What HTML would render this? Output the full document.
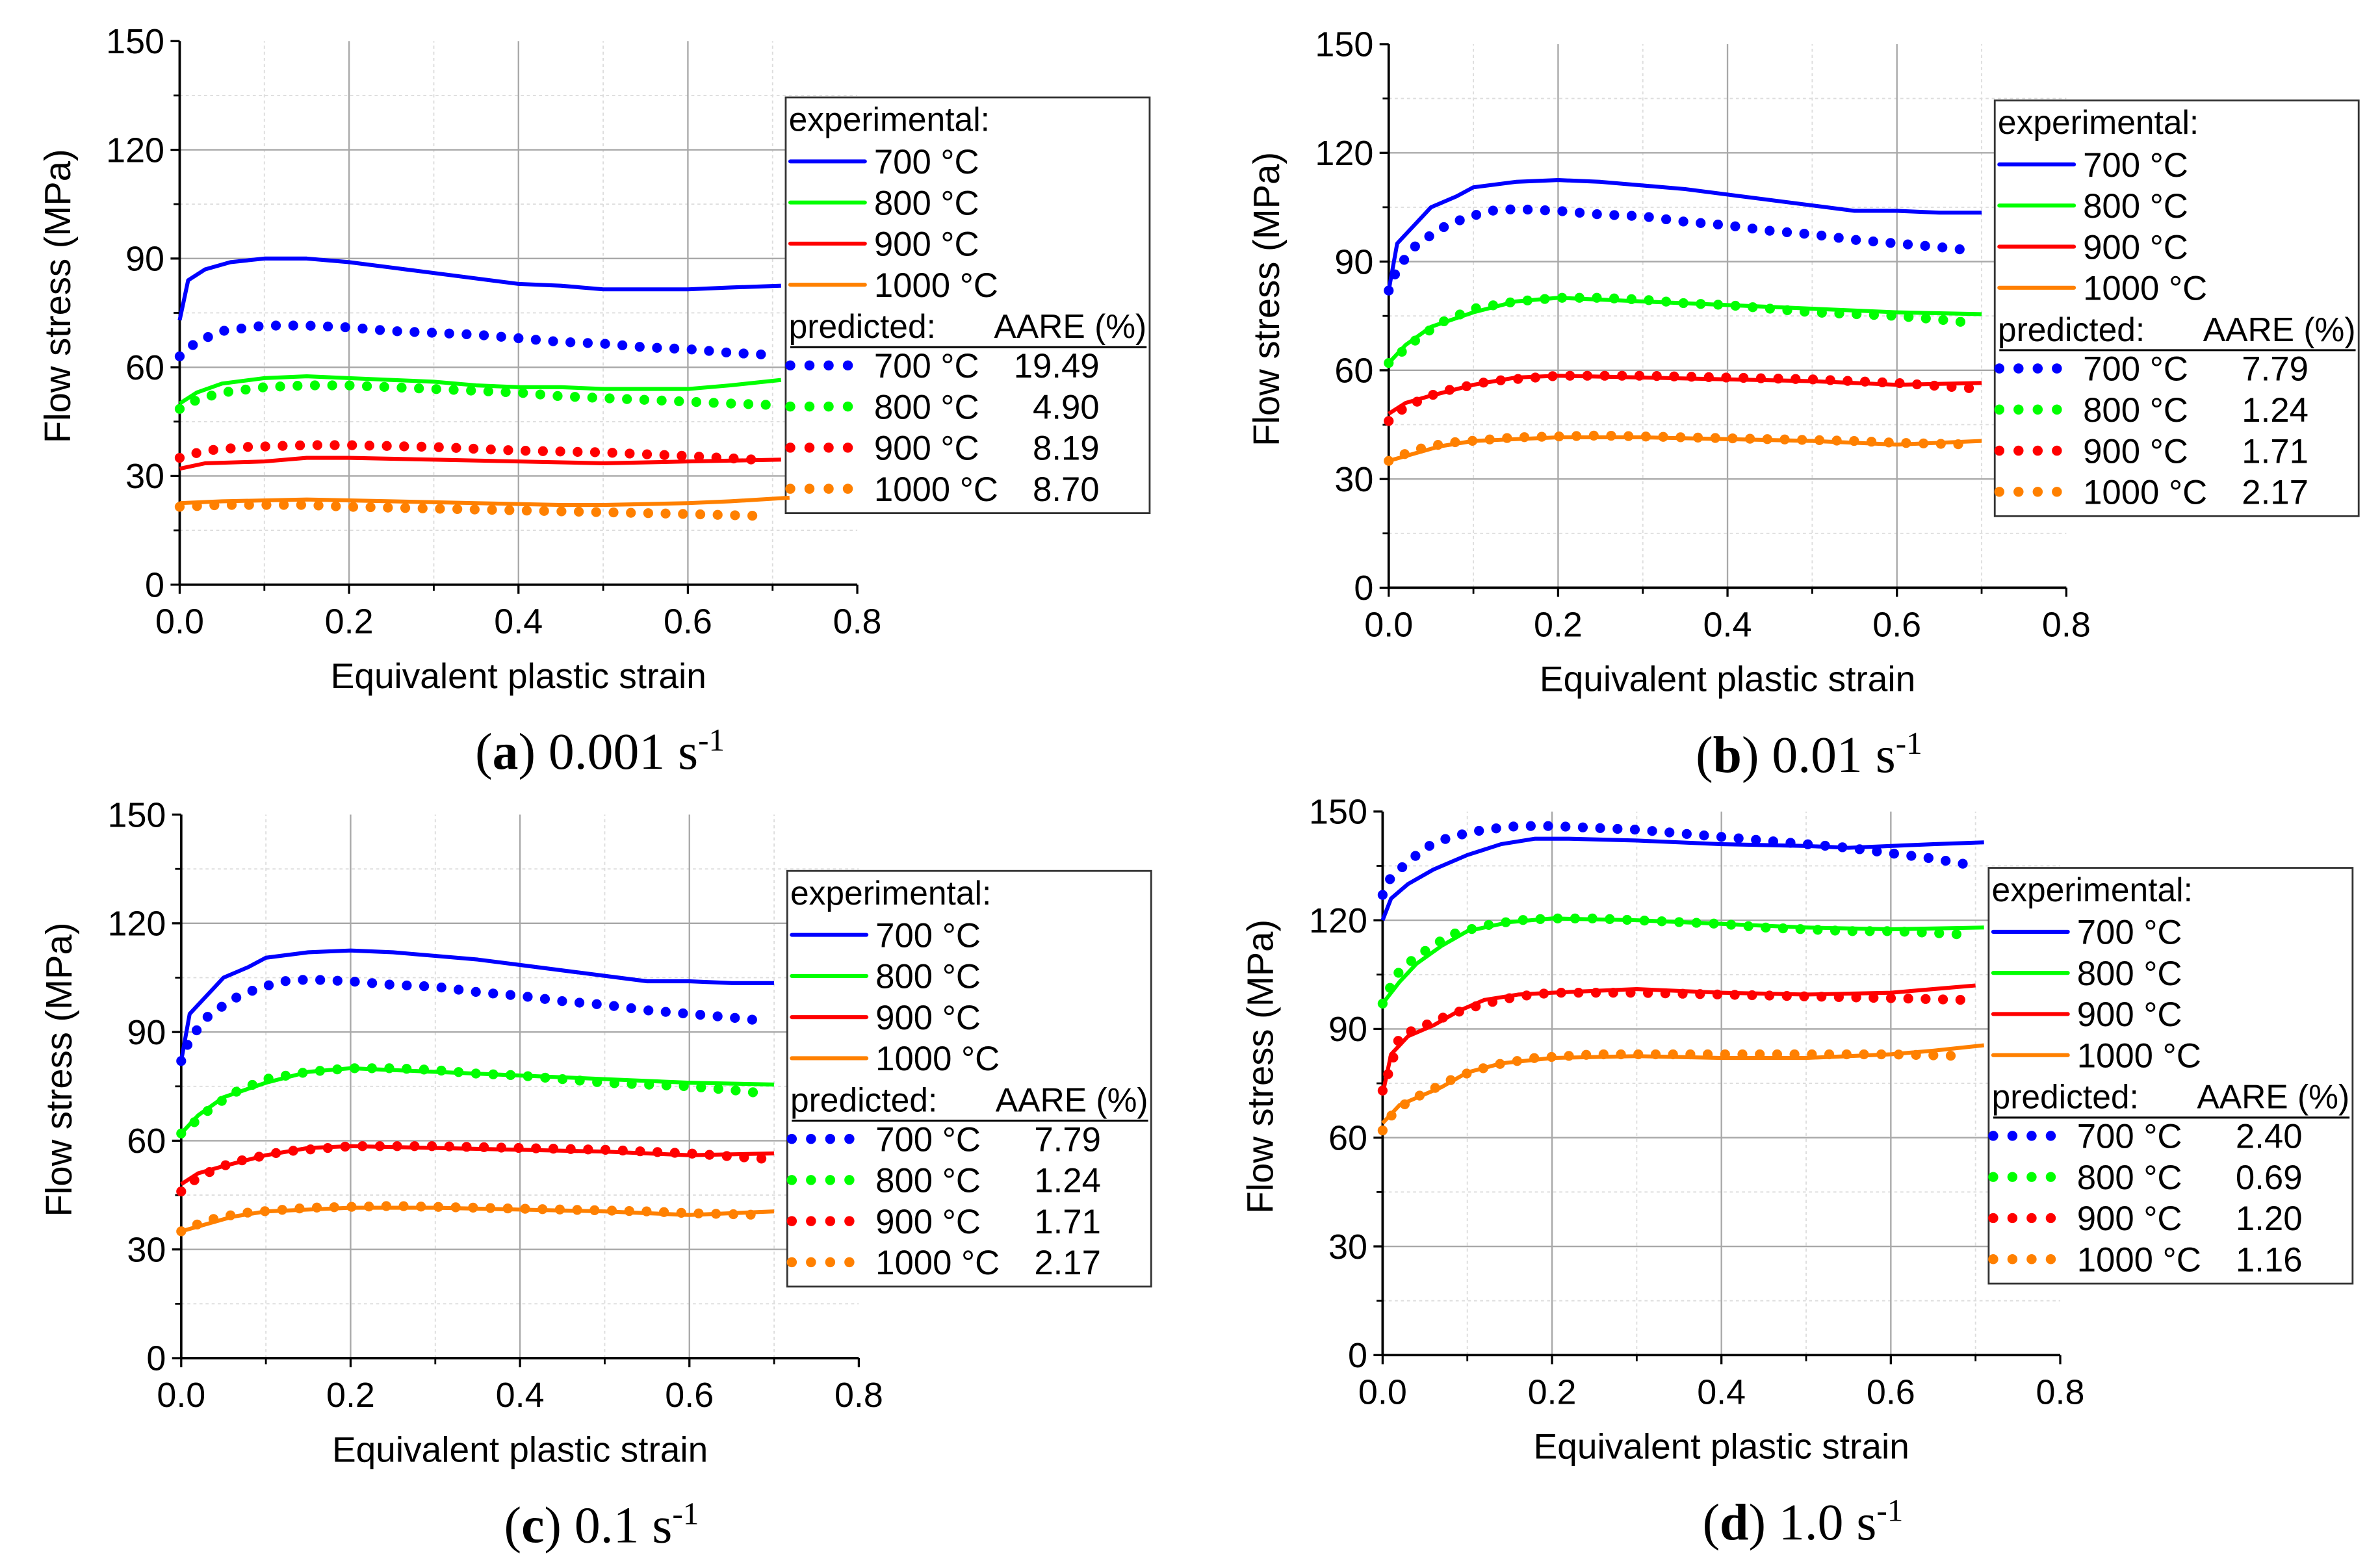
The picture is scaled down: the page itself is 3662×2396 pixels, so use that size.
<!DOCTYPE html>
<html><head><meta charset="utf-8"><style>
html,body{margin:0;padding:0;background:#fff;}
svg{display:block;}
text{font-family:"Liberation Sans",sans-serif;fill:#000;}
</style></head><body>
<svg id="fig" width="3662" height="2396" viewBox="0 0 1563 1022.6" preserveAspectRatio="none" xmlns="http://www.w3.org/2000/svg"></svg>
<script>
// ---- data ----
const temps = ["700 °C","800 °C","900 °C","1000 °C"];
const colors = ["#0000ff","#00ff00","#ff0000","#ff8000"];
const xTicks = [0,0.2,0.4,0.6,0.8];
const xTickLabels = ["0.0","0.2","0.4","0.6","0.8"];
const yTicks = [0,30,60,90,120,150];
const yTickLabels = ["0","30","60","90","120","150"];

// Panel a (0.001 s-1)
const aExp700x=[0,0.01,0.03,0.06,0.1,0.15,0.2,0.25,0.3,0.35,0.4,0.45,0.5,0.55,0.6,0.65,0.71];
const aExp700y=[73,84,87,89,90,90,89,87.5,86,84.5,83,82.5,81.5,81.5,81.5,82,82.5];
const aPre700x=[0,0.02,0.05,0.1,0.15,0.2,0.25,0.3,0.35,0.4,0.45,0.5,0.55,0.6,0.65,0.69];
const aPre700y=[63,67,70,71.5,71.5,71,70,69.5,69,68,67,66.5,65.5,65,64,63.5];
const aExp800x=[0,0.02,0.05,0.1,0.15,0.2,0.25,0.3,0.35,0.4,0.45,0.5,0.55,0.6,0.65,0.71];
const aExp800y=[50,53,55.5,57,57.5,57,56.5,56,55,54.5,54.5,54,54,54,55,56.5];
const aPre800x=[0,0.02,0.05,0.1,0.15,0.2,0.25,0.3,0.35,0.4,0.45,0.5,0.55,0.6,0.65,0.71];
const aPre800y=[48.5,51,53,54.5,55,55,54.5,54,53.5,53,52,51.5,51,50.5,50,49.5];
const aExp900x=[0,0.03,0.1,0.15,0.2,0.3,0.4,0.5,0.6,0.71];
const aExp900y=[32,33.5,34,35,35,34.5,34,33.5,34,34.5];
const aPre900x=[0,0.03,0.08,0.15,0.2,0.3,0.4,0.5,0.6,0.68];
const aPre900y=[35,37,38,38.5,38.5,38,37,36.5,35.5,34.5];
const aExp1000x=[0,0.05,0.15,0.25,0.35,0.45,0.5,0.6,0.65,0.72];
const aExp1000y=[22.5,23,23.5,23,22.5,22,22,22.5,23,24];
const aPre1000x=[0,0.05,0.15,0.2,0.3,0.4,0.5,0.6,0.68];
const aPre1000y=[21.5,22,22,21.5,21,20.5,20,19.5,19];
const aAare=["19.49","4.90","8.19","8.70"];

// Panels b and c (0.01 and 0.1 s-1)
const bExp700x=[0,0.01,0.03,0.05,0.08,0.1,0.15,0.2,0.25,0.3,0.35,0.4,0.45,0.5,0.55,0.6,0.65,0.7];
const bExp700y=[82,95,100,105,108,110.5,112,112.5,112,111,110,108.5,107,105.5,104,104,103.5,103.5];
const bPre700x=[0,0.01,0.03,0.06,0.09,0.12,0.15,0.2,0.25,0.3,0.35,0.4,0.45,0.5,0.55,0.6,0.65,0.69];
const bPre700y=[82,88,94,99,102,104,104.5,104,103,102.5,101,100,98.5,97.5,96,95,94,93];
const bExp800x=[0,0.02,0.05,0.1,0.15,0.2,0.25,0.3,0.35,0.4,0.5,0.6,0.7];
const bExp800y=[62,67,72,76,79,80,79.5,79,78.5,78,77,76,75.5];
const bPre800x=[0,0.03,0.06,0.1,0.15,0.2,0.25,0.3,0.35,0.4,0.45,0.5,0.55,0.6,0.65,0.69];
const bPre800y=[62,68,73,77,79,80,80,79.5,78.5,78,77,76,75.5,75,74,73];
const bExp900x=[0,0.02,0.05,0.1,0.15,0.2,0.3,0.4,0.5,0.6,0.7];
const bExp900y=[48,51,53,56,58,58.5,58,57.5,57,56,56.5];
const bPre900x=[0,0.02,0.06,0.12,0.2,0.3,0.4,0.5,0.6,0.69];
const bPre900y=[46,50,54,57,58.5,58.5,58,57.5,56.5,55];
const bExp1000x=[0,0.03,0.06,0.1,0.2,0.3,0.4,0.5,0.55,0.6,0.65,0.7];
const bExp1000y=[35,37,39,40.5,41.5,41.5,41,40.5,40,39.5,40,40.5];
const bPre1000x=[0,0.03,0.07,0.15,0.25,0.35,0.45,0.55,0.6,0.69];
const bPre1000y=[35,38,40,41.5,42,41.5,41,40.5,40,39.5];
const bAare=["7.79","1.24","1.71","2.17"];

// Panel d (1.0 s-1)
const dExp700x=[0,0.01,0.03,0.06,0.1,0.14,0.18,0.22,0.3,0.4,0.5,0.55,0.6,0.65,0.71];
const dExp700y=[120,126,130,134,138,141,142.5,142.5,142,141,140.5,140,140.5,141,141.5];
const dPre700x=[0,0.01,0.03,0.05,0.08,0.12,0.16,0.2,0.25,0.3,0.35,0.4,0.45,0.5,0.55,0.6,0.65,0.7];
const dPre700y=[127,132,136,140,143,145,146,146,145.5,145,144,143,142,141,140,138.5,137,135];
const dExp800x=[0,0.02,0.04,0.07,0.1,0.15,0.2,0.3,0.4,0.5,0.6,0.71];
const dExp800y=[97,103,108,113,117,119.5,120.5,120,119,118,117.5,118];
const dPre800x=[0,0.01,0.02,0.04,0.06,0.08,0.12,0.16,0.2,0.25,0.3,0.35,0.4,0.45,0.5,0.55,0.6,0.65,0.69];
const dPre800y=[97,102,106,110,113,116,118.5,120,120.5,120.5,120,119.5,119,118,117.5,117,117,116.5,116];
const dExp900x=[0,0.01,0.03,0.06,0.09,0.12,0.16,0.2,0.3,0.35,0.4,0.5,0.6,0.65,0.7];
const dExp900y=[72,83,88,91,95,98,99.5,100,101,100.5,100,99.5,100,101,102];
const dPre900x=[0,0.01,0.015,0.02,0.05,0.08,0.12,0.16,0.2,0.3,0.4,0.5,0.6,0.69];
const dPre900y=[73,80,84,88,91,94,97,99,100,100,99.5,99,98.5,98];
const dExp1000x=[0,0.02,0.04,0.07,0.1,0.14,0.2,0.3,0.4,0.5,0.6,0.65,0.71];
const dExp1000y=[64,69,71,74,78,80.5,82,82.5,82,82,83,84,85.5];
const dPre1000x=[0,0.01,0.03,0.06,0.09,0.13,0.18,0.25,0.4,0.5,0.6,0.69];
const dPre1000y=[62,66,70,73.5,77,80,82,83,83,83,83,82.5];
const dAare=["2.40","0.69","1.20","1.16"];

// ---- drawing ----
const NS="http://www.w3.org/2000/svg";
const svg=document.getElementById('fig');
function mk(tag,attrs,parent){const e=document.createElementNS(NS,tag);for(const k in attrs)e.setAttribute(k,attrs[k]);(parent||svg).appendChild(e);return e;}

function panel(p){
  const W=445,H=357;
  const g=mk('g',{});
  
  
  const sx=v=>p.x0+v/0.8*W;
  const sy=v=>p.y0-v/150*H;
  for(let i=1;i<8;i+=2){const l=mk('line',{x1:sx(i*0.1),x2:sx(i*0.1),y1:sy(0),y2:sy(150),stroke:'#dddddd','stroke-width':0.8,'stroke-dasharray':'2 2'},g);
    }
  for(let v=15;v<150;v+=30){const l=mk('line',{x1:sx(0),x2:sx(0.8),y1:sy(v),y2:sy(v),stroke:'#dddddd','stroke-width':0.8,'stroke-dasharray':'2 2'},g);
    }
  for(const t of xTicks.slice(1,4)){const l=mk('line',{x1:sx(t),x2:sx(t),y1:sy(0),y2:sy(150),stroke:'#a8a8a8','stroke-width':1},g);
    }
  for(const t of yTicks.slice(1,5)){const l=mk('line',{x1:sx(0),x2:sx(0.8),y1:sy(t),y2:sy(t),stroke:'#a8a8a8','stroke-width':1},g);
    }
  const ax=mk('line',{x1:sx(0),x2:sx(0.8),y1:sy(0),y2:sy(0),stroke:'#000','stroke-width':1.6},g);
  
  const ay=mk('line',{x1:sx(0),x2:sx(0),y1:sy(0),y2:sy(150),stroke:'#000','stroke-width':1.6},g);
  
  xTicks.forEach((t,i)=>{
    mk('line',{x1:sx(t),x2:sx(t),y1:sy(0),y2:sy(0)+6,stroke:'#000','stroke-width':1.4},g);
    const tx=mk('text',{x:sx(t),y:sy(0)+32,'text-anchor':'middle','font-size':23},g);
    tx.textContent=xTickLabels[i];
    
  });
  for(let i=1;i<8;i+=2) mk('line',{x1:sx(i*0.1),x2:sx(i*0.1),y1:sy(0),y2:sy(0)+4,stroke:'#000','stroke-width':1.2},g);
  yTicks.forEach((t,i)=>{
    mk('line',{x1:sx(0)-6,x2:sx(0),y1:sy(t),y2:sy(t),stroke:'#000','stroke-width':1.4},g);
    const tx=mk('text',{x:sx(0)-10,y:sy(t)+8,'text-anchor':'end','font-size':23},g);
    tx.textContent=yTickLabels[i];
    
  });
  for(let v=15;v<150;v+=30) mk('line',{x1:sx(0)-4,x2:sx(0),y1:sy(v),y2:sy(v),stroke:'#000','stroke-width':1.2},g);
  const xt=mk('text',{x:p.x0+W/2,y:p.y0+68,'text-anchor':'middle','font-size':23.5},g);
  xt.textContent='Equivalent plastic strain';
  
  const yc=p.y0-H/2-11;
  const yt=mk('text',{x:0,y:0,'text-anchor':'middle','font-size':24,transform:`translate(${p.x0-72},${yc}) rotate(-90)`},g);
  yt.textContent='Flow stress (MPa)';
  
  const lx=p.x0+398, ly=p.y0-H+37;
  const lb=mk('rect',{x:lx,y:ly,width:239,height:273,fill:'#fff',stroke:'#333','stroke-width':1.2},g);
  
  const path=(xs,ys)=>xs.map((x,i)=>(i?'L':'M')+sx(x).toFixed(2)+','+sy(ys[i]).toFixed(2)).join(' ');
  p.exp.forEach((s,i)=>{
    const e=mk('path',{d:path(s[0],s[1]),fill:'none',stroke:colors[i],'stroke-width':2.6,'stroke-linejoin':'round'},g);
    
    
  });
  p.pre.forEach((s,i)=>{
    const e=mk('path',{d:path(s[0],s[1]),fill:'none',stroke:colors[i],'stroke-width':6.5,'stroke-linecap':'round','stroke-dasharray':'0 11.4'},g);
    
    
  });
  const t0=mk('text',{x:lx+2,y:ly+22,'font-size':22},g);t0.textContent='experimental:';
  
  temps.forEach((tt,i)=>{
    const yy=ly+42+27*i;
    mk('line',{x1:lx+3,x2:lx+52,y1:yy,y2:yy,stroke:colors[i],'stroke-width':2.6,'stroke-linecap':'round'},g);
    const tx=mk('text',{x:lx+58,y:yy+8,'font-size':22.5},g);tx.textContent=tt;
    
  });
  const t1=mk('text',{x:lx+2,y:ly+158,'font-size':22},g);t1.textContent='predicted:';
  
  const t2=mk('text',{x:lx+237,y:ly+158,'font-size':22,'text-anchor':'end'},g);t2.textContent='AARE (%)';
  
  mk('line',{x1:lx+3,x2:lx+237,y1:ly+164,y2:ly+164,stroke:'#000','stroke-width':1.3},g);
  temps.forEach((tt,i)=>{
    const yy=ly+176+27*i;
    for(let k=0;k<4;k++) mk('circle',{cx:lx+3+12.6*k,cy:yy,r:3.3,fill:colors[i]},g);
    const tx=mk('text',{x:lx+58,y:yy+8,'font-size':22.5},g);tx.textContent=tt;
    
    const va=mk('text',{x:lx+206,y:yy+8,'font-size':22.5,'text-anchor':'end'},g);va.textContent=p.aare[i];
    
  });
  const cap=mk('text',{x:p.x0+276,y:p.y0+121,'text-anchor':'middle','font-size':34,style:'font-family:"Liberation Serif",serif'},g);
  cap.innerHTML='(<tspan font-weight="bold">'+p.id+'</tspan>) '+p.rate+' s<tspan font-size="21" dy="-12">-1</tspan>';
  
}

panel({id:'a',rate:'0.001',x0:118,y0:384,aare:aAare,
  exp:[[aExp700x,aExp700y],[aExp800x,aExp800y],[aExp900x,aExp900y],[aExp1000x,aExp1000y]],
  pre:[[aPre700x,aPre700y],[aPre800x,aPre800y],[aPre900x,aPre900y],[aPre1000x,aPre1000y]]});
panel({id:'b',rate:'0.01',x0:912,y0:386,aare:bAare,
  exp:[[bExp700x,bExp700y],[bExp800x,bExp800y],[bExp900x,bExp900y],[bExp1000x,bExp1000y]],
  pre:[[bPre700x,bPre700y],[bPre800x,bPre800y],[bPre900x,bPre900y],[bPre1000x,bPre1000y]]});
panel({id:'c',rate:'0.1',x0:119,y0:892,aare:bAare,
  exp:[[bExp700x,bExp700y],[bExp800x,bExp800y],[bExp900x,bExp900y],[bExp1000x,bExp1000y]],
  pre:[[bPre700x,bPre700y],[bPre800x,bPre800y],[bPre900x,bPre900y],[bPre1000x,bPre1000y]]});
panel({id:'d',rate:'1.0',x0:908,y0:890,aare:dAare,
  exp:[[dExp700x,dExp700y],[dExp800x,dExp800y],[dExp900x,dExp900y],[dExp1000x,dExp1000y]],
  pre:[[dPre700x,dPre700y],[dPre800x,dPre800y],[dPre900x,dPre900y],[dPre1000x,dPre1000y]]});
</script>
</body></html>
